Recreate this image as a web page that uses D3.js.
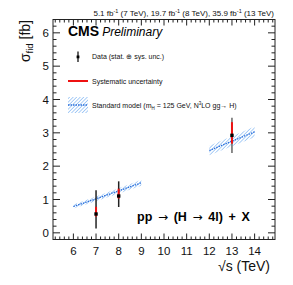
<!DOCTYPE html>
<html><head><meta charset="utf-8">
<script src="https://cdn.jsdelivr.net/npm/d3@7"></script>
<style>body{margin:0;background:#fff}svg{font-family:"Liberation Sans",Arial,sans-serif}</style>
</head><body>
<svg id="c" width="293" height="285"></svg>
<script>
// Data
const energies = [7, 8, 13];
const sigma = [0.565, 1.105, 2.925];
const totUp = [0.71, 0.44, 0.53];
const totDn = [0.435, 0.33, 0.53];
const sysUp = [0.215, 0.22, 0.395];
const sysDn = [0.075, 0.075, 0.25];
const smBand1 = {x: [6, 7, 8, 9], y: [0.79, 1.02, 1.26, 1.50], err: [0.06, 0.07, 0.08, 0.09]};
const smBand2 = {x: [12, 13, 14], y: [2.47, 2.75, 3.03], err: [0.14, 0.15, 0.16]};
const xTicks = [6, 7, 8, 9, 10, 11, 12, 13, 14];
const yTicks = [0, 1, 2, 3, 4, 5, 6];

const svg = d3.select("#c");
const L = 53, R = 275, T = 19.5, B = 239.5;
const x = d3.scaleLinear().domain([5.1, 14.9]).range([L, R]);
const y = d3.scaleLinear().domain([-0.2, 6.4]).range([B, T]);

// hatch pattern
const defs = svg.append("defs");
const pat = defs.append("pattern").attr("id", "hatch").attr("patternUnits", "userSpaceOnUse")
  .attr("width", 2.5).attr("height", 2.5).attr("patternTransform", "rotate(45)");
pat.append("line").attr("x1", 0).attr("y1", 0).attr("x2", 0).attr("y2", 2.5)
  .attr("stroke", "#5aa0ee").attr("stroke-width", 1);

// SM bands
function band(b) {
  const pts = b.x.map((v, i) => ({x: v, y: b.y[i], e: b.err[i]}));
  svg.append("path").datum(pts)
    .attr("d", d3.area().x(d => x(d.x)).y0(d => y(d.y - d.e)).y1(d => y(d.y + d.e)))
    .attr("fill", "url(#hatch)").attr("stroke", "none");
  svg.append("path").datum(pts)
    .attr("d", d3.line().x(d => x(d.x)).y(d => y(d.y)))
    .attr("fill", "none").attr("stroke", "#2a6fdb").attr("stroke-width", 1.3).attr("stroke-dasharray", "1.5,1");
}

// Data points
const pts = energies.map((e, i) => ({e, s: sigma[i], tu: totUp[i], td: totDn[i], su: sysUp[i], sd: sysDn[i]}));
const g = svg.append("g");
g.selectAll("line.tot").data(pts).join("line").attr("class", "tot")
  .attr("x1", d => x(d.e)).attr("x2", d => x(d.e))
  .attr("y1", d => y(d.s + d.tu)).attr("y2", d => y(d.s - d.td))
  .attr("stroke", (d, i) => i === 2 ? "#666" : "#222").attr("stroke-width", 1.5);
g.selectAll("line.sys").data(pts).join("line").attr("class", "sys")
  .attr("x1", d => x(d.e)).attr("x2", d => x(d.e))
  .attr("y1", d => y(d.s + d.su)).attr("y2", d => y(d.s - d.sd))
  .attr("stroke", "#ee1111").attr("stroke-width", 2);
band(smBand1);
band(smBand2);
g.raise();
g.selectAll("rect.m").data(pts).join("rect").attr("class", "m")
  .attr("x", d => x(d.e) - 1.7).attr("y", d => y(d.s) - 1.7)
  .attr("width", 3.4).attr("height", 3.4).attr("fill", "#000");

// frame
svg.append("rect").attr("x", L).attr("y", T).attr("width", R - L).attr("height", B - T)
  .attr("fill", "none").attr("stroke", "#222").attr("stroke-width", 1);

// ticks
const ax = svg.append("g").attr("stroke", "#222").attr("stroke-width", 1);
const xMinor = d3.range(52, 150, 2).map(v => v / 10);
const yMinor = d3.range(-2, 65, 2).map(v => v / 10);
xMinor.forEach(v => {
  const major = Math.abs(v - Math.round(v)) < 1e-6;
  const len = major ? 6 : 3;
  ax.append("line").attr("x1", x(v)).attr("x2", x(v)).attr("y1", B).attr("y2", B - len);
  ax.append("line").attr("x1", x(v)).attr("x2", x(v)).attr("y1", T).attr("y2", T + len);
});
yMinor.forEach(v => {
  const major = Math.abs(v - Math.round(v)) < 1e-6;
  const len = major ? 7 : 3.5;
  ax.append("line").attr("y1", y(v)).attr("y2", y(v)).attr("x1", L).attr("x2", L + len);
  ax.append("line").attr("y1", y(v)).attr("y2", y(v)).attr("x1", R).attr("x2", R - len);
});

// tick labels
svg.append("g").selectAll("text").data(xTicks).join("text")
  .attr("x", d => x(d)).attr("y", 255).attr("text-anchor", "middle")
  .attr("font-size", 11.5).attr("fill", "#111").text(d => d);
svg.append("g").selectAll("text").data(yTicks).join("text")
  .attr("x", 49).attr("y", d => y(d) + 4.2).attr("text-anchor", "end")
  .attr("font-size", 11.5).attr("fill", "#111").text(d => d);

// axis titles
const yt = svg.append("text").attr("transform", "translate(30,20) rotate(-90)")
  .attr("text-anchor", "end").attr("font-size", 14).attr("fill", "#111");
yt.append("tspan").text("σ");
yt.append("tspan").attr("font-size", 9.5).attr("dy", 3).text("fid");
yt.append("tspan").attr("dy", -3).text(" [fb]");
svg.append("text").attr("x", 270).attr("y", 271).attr("text-anchor", "end")
  .attr("font-size", 14).attr("fill", "#111").text("√s (TeV)");

// top lumi text
const lt = svg.append("text").attr("x", 274).attr("y", 16).attr("text-anchor", "end")
  .attr("font-size", 8).attr("fill", "#111");
[["5.1 fb", "-1", " (7 TeV), 19.7 fb"], ["", "-1", " (8 TeV), 35.9 fb"], ["", "-1", " (13 TeV)"]].forEach(p => {
  if (p[0]) lt.append("tspan").text(p[0]);
  lt.append("tspan").attr("font-size", 5.5).attr("dy", -3).text(p[1]);
  lt.append("tspan").attr("dy", 3).text(p[2]);
});

// CMS label
const cms = svg.append("text").attr("x", 68).attr("y", 36).attr("fill", "#000");
cms.append("tspan").attr("font-weight", "bold").attr("font-size", 14).text("CMS");
cms.append("tspan").attr("font-style", "italic").attr("font-size", 12).attr("dx", 3).text("Preliminary");

// legend
const lg = svg.append("g");
lg.append("line").attr("x1", 78).attr("x2", 78).attr("y1", 51.5).attr("y2", 62).attr("stroke", "#000").attr("stroke-width", 1.2);
lg.append("rect").attr("x", 76.6).attr("y", 55.5).attr("width", 2.8).attr("height", 2.8).attr("fill", "#000");
lg.append("text").attr("x", 92).attr("y", 59).attr("font-size", 7).attr("fill", "#111").text("Data (stat. ⊕ sys. unc.)");
lg.append("line").attr("x1", 68).attr("x2", 88).attr("y1", 81).attr("y2", 81).attr("stroke", "#ee1111").attr("stroke-width", 2);
lg.append("text").attr("x", 92).attr("y", 83.5).attr("font-size", 7).attr("fill", "#111").text("Systematic uncertainty");
lg.append("rect").attr("x", 68).attr("y", 97).attr("width", 20).attr("height", 16).attr("fill", "url(#hatch)");
lg.append("line").attr("x1", 68).attr("x2", 88).attr("y1", 105).attr("y2", 105).attr("stroke", "#2a6fdb").attr("stroke-width", 1.3).attr("stroke-dasharray", "1.5,1");
const st = lg.append("text").attr("x", 92).attr("y", 107.5).attr("font-size", 7).attr("fill", "#111");
st.append("tspan").text("Standard model (m");
st.append("tspan").attr("font-size", 4.5).attr("dy", 2).text("H");
st.append("tspan").attr("dy", -2).text(" = 125 GeV, N");
st.append("tspan").attr("font-size", 4.5).attr("dy", -3).text("3");
st.append("tspan").attr("dy", 3).text("LO gg→ H)");

// process label
const pl = svg.append("text").attr("x", 137).attr("y", 221).attr("font-size", 12.5).attr("font-weight", "bold")
  .attr("fill", "#000").attr("word-spacing", 2.2);
pl.append("tspan").text("pp ");
pl.append("tspan").attr("font-weight", "normal").attr("font-family", "DejaVu Sans").attr("font-size", 12).text("→");
pl.append("tspan").text(" (H ");
pl.append("tspan").attr("font-weight", "normal").attr("font-family", "DejaVu Sans").attr("font-size", 12).text("→");
pl.append("tspan").text(" 4l) + X");
</script>
</body></html>
